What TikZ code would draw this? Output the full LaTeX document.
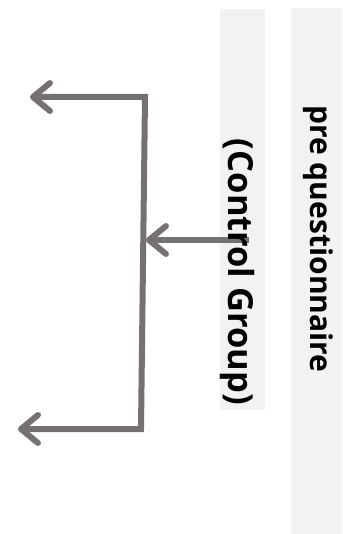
\documentclass[tikz,border=0pt]{standalone}
\usepackage{fontspec}
\setmainfont{Open Sans}
\usetikzlibrary{arrows.meta}
\definecolor{panelgray}{HTML}{F2F2F2}
\definecolor{linkgray}{HTML}{767171}
\begin{document}
\begin{tikzpicture}[x=1pt,y=-1pt,
  panel/.style={fill=panelgray,draw=none},
  vlabel/.style={rotate=-90,font=\bfseries,inner sep=0pt},
  barb/.tip={Straight Barb[length=17pt,width=28pt,line cap=round,line join=round]},
  link/.style={draw=linkgray,line width=6pt,line join=miter}]
\useasboundingbox (0,0) rectangle (342,534);
% the two grey bands
\fill[panel] (220,9) rectangle (265,410);
\fill[panel] (291,8) rectangle (342,534);
% elbow connector splitting to the two outputs
\coordinate (tipA) at (30,97);
\coordinate (bendA) at (145,97);
\coordinate (bendB) at (141,429);
\coordinate (tipB) at (18,429);
\coordinate (src) at (249,240);
\coordinate (join) at (146,240);
\draw[link,barb-barb] (tipA) -- (bendA) -- (bendB) -- (tipB);
\draw[link,-barb] (src) -- (join);
% band labels
\node[vlabel,font=\bfseries\fontsize{34.5}{40}\selectfont] (ctrl) at (237,272) {(Control Group)};
\node[vlabel,font=\bfseries\fontsize{30}{36}\selectfont] (preq) at (318,239) {pre questionnaire};
\end{tikzpicture}
\end{document}
